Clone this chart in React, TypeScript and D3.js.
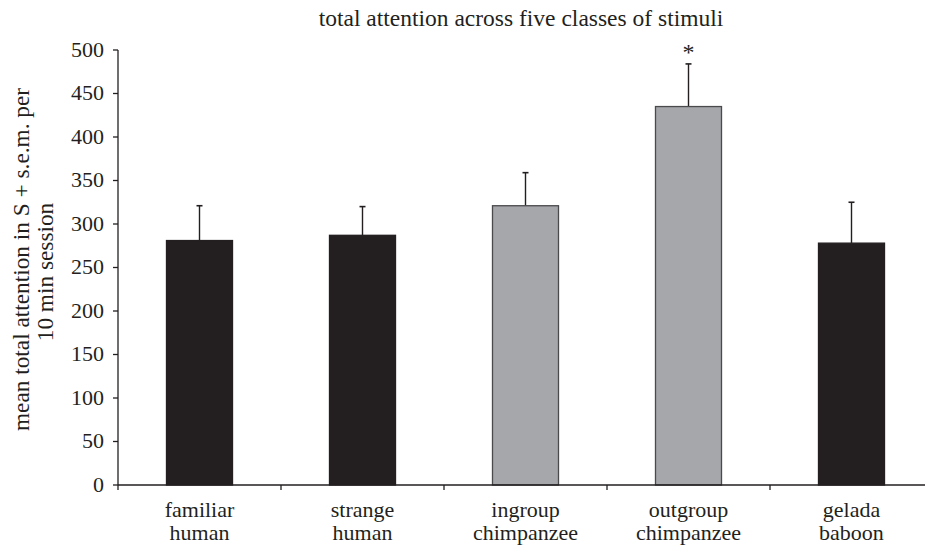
import React from "react";
import * as d3 from "d3";

const categories = [
  ["familiar", "human"],
  ["strange", "human"],
  ["ingroup", "chimpanzee"],
  ["outgroup", "chimpanzee"],
  ["gelada", "baboon"],
];
const means = [281, 287, 321, 435, 278];
const sems = [40, 33, 38, 49, 47];
const isChimp = [false, false, true, true, false];
const yTicks = [0, 50, 100, 150, 200, 250, 300, 350, 400, 450, 500];
const significant = [false, false, false, true, false];

const W = 925;
const H = 545;
const x0 = 118;
const step = 163;
const yTop = 50;
const yBottom = 485;
const font = "'Liberation Serif', 'Times New Roman', serif";
const ink = "#231f20";

export default function App() {
  const keys = categories.map((c) => c.join(" "));
  const x = d3
    .scaleBand<string>()
    .domain(keys)
    .range([x0, x0 + step * keys.length])
    .paddingInner(0.595)
    .paddingOuter(0.2975);
  const y = d3.scaleLinear().domain([0, 500]).range([yBottom, yTop]);
  const bw = x.bandwidth();

  return (
    <svg
      width={W}
      height={H}
      style={{ position: "absolute", left: 0, top: 0, background: "#fff", fontFamily: font }}
    >
      <text x={521} y={26} textAnchor="middle" fontSize={23.5} fill={ink}>
        total attention across five classes of stimuli
      </text>
      {/* y axis title */}
      <text
        transform="translate(28.5,259.5) rotate(-90)"
        textAnchor="middle"
        fontSize={23.3}
        fill={ink}
      >
        mean total attention in S + s.e.m. per
      </text>
      <text
        transform="translate(53,272) rotate(-90)"
        textAnchor="middle"
        fontSize={23.3}
        fill={ink}
      >
        10 min session
      </text>
      {/* bars */}
      {keys.map((k, i) => {
        const bx = x(k)!;
        const cx = bx + bw / 2;
        const top = y(means[i]);
        const et = y(means[i] + sems[i]);
        return (
          <g key={k}>
            <line x1={cx} x2={cx} y1={top} y2={et} stroke={ink} strokeWidth={1.4} />
            <line x1={cx - 3} x2={cx + 3} y1={et} y2={et} stroke={ink} strokeWidth={1.6} />
            <rect
              x={bx}
              y={top}
              width={bw}
              height={yBottom - top}
              fill={isChimp[i] ? "#a6a7ab" : ink}
              stroke={isChimp[i] ? "#4a4a4c" : ink}
              strokeWidth={1.3}
            />
            {significant[i] && (
              <text x={cx} y={et - 4} textAnchor="middle" fontSize={24} fill={ink}>
                *
              </text>
            )}
          </g>
        );
      })}
      {/* y axis */}
      <line x1={x0} x2={x0} y1={yTop} y2={yBottom} stroke={ink} strokeWidth={1.3} />
      {yTicks.map((t) => (
        <g key={t}>
          <line x1={x0 - 5} x2={x0} y1={y(t)} y2={y(t)} stroke={ink} strokeWidth={1.3} />
          <text x={104} y={y(t) + 6.5} textAnchor="end" fontSize={22} fill={ink}>
            {t}
          </text>
        </g>
      ))}
      {/* x axis */}
      <line x1={x0} x2={W} y1={yBottom} y2={yBottom} stroke={ink} strokeWidth={1.3} />
      {d3.range(keys.length + 1).map((j) => (
        <line
          key={j}
          x1={x0 + step * j}
          x2={x0 + step * j}
          y1={yBottom}
          y2={yBottom + 5}
          stroke={ink}
          strokeWidth={1.3}
        />
      ))}
      {keys.map((k, i) => {
        const cx = x(k)! + bw / 2;
        return (
          <text key={k} textAnchor="middle" fontSize={22} fill={ink}>
            <tspan x={cx} y={517}>
              {categories[i][0]}
            </tspan>
            <tspan x={cx} y={539.5}>
              {categories[i][1]}
            </tspan>
          </text>
        );
      })}
    </svg>
  );
}
